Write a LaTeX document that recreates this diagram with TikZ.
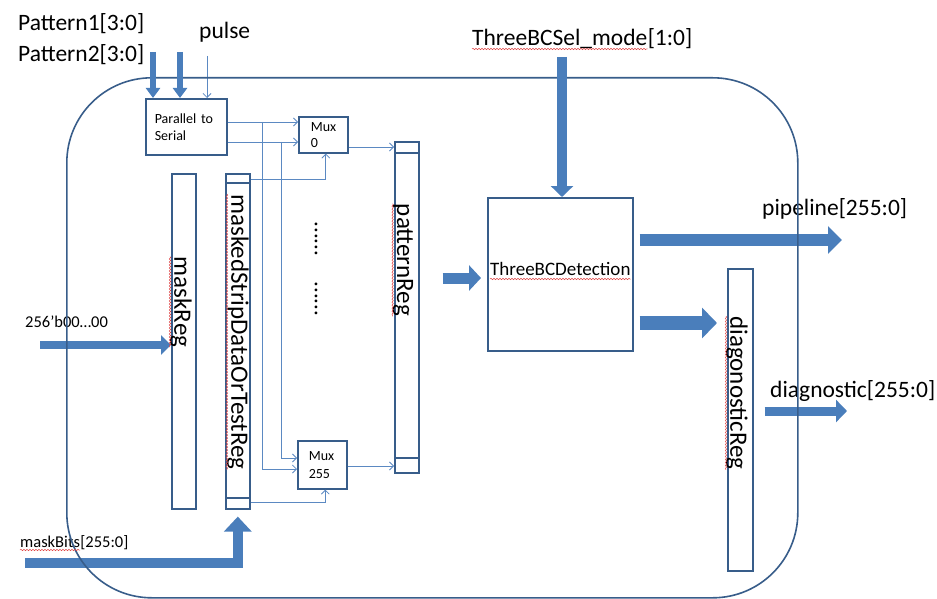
\documentclass[tikz,border=0pt]{standalone}
\usepackage{fontspec}
\setmainfont{Carlito}
\usetikzlibrary{arrows.meta,decorations.pathmorphing,calc}
\definecolor{edge}{HTML}{385D8A}
\definecolor{flow}{HTML}{4A7EBB}
\definecolor{wire}{HTML}{5B89C2}
\definecolor{spell}{HTML}{E04848}

\begin{document}
\begin{tikzpicture}[x=1pt,y=1pt,
  box/.style={draw=edge, line width=1.6pt, fill=white, inner sep=0pt, anchor=north west},
  enclosure/.style={draw=edge, line width=1.6pt, rounded corners=85pt, inner sep=0pt, anchor=north west},
  txt/.style={inner sep=0pt, anchor=base west, text=black},
  bigtxt/.style={txt, font=\fontsize{23.5}{26}\selectfont},
  midtxt/.style={txt, font=\fontsize{16.5}{18}\selectfont},
  regtxt/.style={inner sep=0pt, rotate=-90, text=black, font=\fontsize{25}{28}\selectfont},
  smalltxt/.style={font=\fontsize{14}{17}\selectfont, align=left},
  sig/.style={draw=wire, line width=0.8pt, -{Straight Barb[length=4pt,width=8pt]}},
  bus/.style args={#1/#2/#3}{draw=flow, line width=#1, line join=miter,
    -{Triangle[width=#2,length=#3]}},
  squig/.style={draw=spell, line width=0.5pt, decorate,
    decoration={snake, amplitude=0.7pt, segment length=3pt}}
]
\useasboundingbox (0,0) rectangle (937,-599);

% ---- input / output labels
\node[bigtxt] (pat1) at (18,-31) {Pattern1[3:0]};
\node[bigtxt] (pat2) at (18,-62) {Pattern2[3:0]};
\node[bigtxt] (pulse) at (199,-39) {pulse};
\node[bigtxt] (selname) at (472,-46) {ThreeBCSel\_mode};
\node[bigtxt] (selbits) at (selname.base east) {[1:0]};
\node[bigtxt] (pipe) at (762,-215) {pipeline[255:0]};
\node[bigtxt] (diag) at (770,-397) {diagnostic[255:0]};
\node[midtxt] (zeros) at (25,-327) {256’b00…00};
\node[midtxt] (mbname) at (20,-547) {maskBits};
\node[midtxt] (mbbits) at (mbname.base east) {[255:0]};

% ---- buses that pass under the enclosure outline
\coordinate (zeroin) at (40,-345);
\coordinate (mbin) at (25,-563);
\coordinate (pipeout) at (842,-240);
\coordinate (diagout) at (847,-411);

% ---- blocks
\node[box, minimum width=81pt, minimum height=56pt, text width=63pt,
      inner xsep=9pt, smalltxt] (p2s) at (145,-98) {Parallel to\\Serial};
\node[box, minimum width=49pt, minimum height=36pt, text width=25pt,
      inner xsep=12pt, smalltxt, font=\fontsize{14}{16}\selectfont] (mux0) at (298,-116) {Mux\\0};
\node[box, minimum width=49pt, minimum height=48pt, text width=27pt,
      inner xsep=11pt, smalltxt, font=\fontsize{14}{18}\selectfont] (mux255) at (297,-440) {Mux\\255};
\node[box, minimum width=24pt, minimum height=335pt] (mreg) at (171,-173) {};
\node[box, minimum width=24pt, minimum height=335pt] (msr) at (225,-173) {};
\node[box, minimum width=24pt, minimum height=331pt] (preg) at (394,-141) {};
\node[box, minimum width=145pt, minimum height=153pt] (tbc) at (487,-197) {};
\node[box, minimum width=25pt, minimum height=302pt] (dreg) at (727,-268) {};

% register end cells
\draw[edge, line width=1.6pt] (msr.west |- 0,-183) -- (msr.east |- 0,-183);
\draw[edge, line width=1.6pt] (msr.west |- 0,-498) -- (msr.east |- 0,-498);
\draw[edge, line width=1.6pt] (preg.west |- 0,-153) -- (preg.east |- 0,-153);
\draw[edge, line width=1.6pt] (preg.west |- 0,-458) -- (preg.east |- 0,-458);

% block captions
\node[regtxt] (mregtxt) at (181,-302) {maskReg};
\node[regtxt] (msrtxt) at (238,-332) {maskedStripDataOrTestReg};
\node[regtxt] (pregtxt) at (403,-260) {patternReg};
\node[regtxt] (dregtxt) at (737,-393) {diagonosticReg};
\node[txt, font=\fontsize{19}{22}\selectfont] (tbctxt) at (490,-275) {ThreeBCDetection};
\node[regtxt, font=\fontsize{23}{23}\selectfont] (dotsa) at (316,-239) {......};
\node[regtxt, font=\fontsize{23}{23}\selectfont] (dotsb) at (316,-299) {......};

% ---- thin signal wiring
\draw[sig] (p2s.east |- 0,-122) -- (mux0.west |- 0,-122);
\draw[sig] (p2s.east |- 0,-142) -- (mux0.west |- 0,-142);
\draw[sig] (p2s.east |- 0,-122) ++(35,0) |- (mux255.west |- 0,-469);
\draw[sig] (p2s.east |- 0,-142) ++(54,0) |- (mux255.west |- 0,-458);
\draw[sig] (msr.east |- 0,-179) -| ($(mux0.south)+(2.5,0)$);
\draw[sig] (msr.east |- 0,-502) -| ($(mux255.south)+(3,0)$);
\draw[sig] (mux0.east |- 0,-147) -- (preg.west |- 0,-147);
\draw[sig] (mux255.east |- 0,-466) -- (preg.west |- 0,-466);
\draw[sig] ($(pulse.south west)+(8,-13)$) -- (p2s.north -| 207,0);

% ---- wide buses
\draw[bus=8pt/19pt/10pt] (zeroin) -- (mreg.west |- zeroin);
\draw[bus=10pt/27pt/15pt] (mbin) -| ($(msr.south)+(0,-7)$);
\draw[bus=12pt/27pt/14pt] ($(tbc.east |- pipeout)+(6,0)$) -- (pipeout);
\draw[bus=14pt/30pt/15pt] ($(tbc.east |- 0,-323)+(6,0)$) -- ($(dreg.west |- 0,-323)+(-10,0)$);
\draw[bus=9pt/22pt/11pt] ($(dreg.east |- diagout)+(11,0)$) -- (diagout);
\draw[bus=11pt/25pt/12pt] ($(preg.east |- 0,-278)+(23,0)$) -- ($(tbc.west |- 0,-278)+(-6,0)$);

% ---- module outline
\node[enclosure, minimum width=731pt, minimum height=520pt] (module) at (66,-77) {};

% ---- buses entering over the outline
\draw[bus=6pt/14pt/10pt] (153,-52) -- (p2s.north -| 153,0);
\draw[bus=6pt/14pt/10pt] (180,-52) -- (p2s.north -| 180,0);
\draw[bus=10pt/22pt/11pt] (562,-57) -- (tbc.north -| 562,0);

% ---- spell-check marks
\draw[squig] ($(selname.base west)+(0,-3)$) -- ($(selname.base east)+(0,-3)$);
\draw[squig] ($(tbctxt.base west)+(0,-4)$) -- ($(tbctxt.base east)+(0,-4)$);
\draw[squig] ($(mbname.base west)+(0,-3)$) -- ($(mbname.base east)+(0,-3)$);
\draw[squig] (mregtxt.south west) -- (mregtxt.south east);
\draw[squig] (msrtxt.south west) -- (msrtxt.south east);
\draw[squig] (pregtxt.south west) -- (pregtxt.south east);
\draw[squig] (dregtxt.south west) -- (dregtxt.south east);
\end{tikzpicture}
\end{document}
